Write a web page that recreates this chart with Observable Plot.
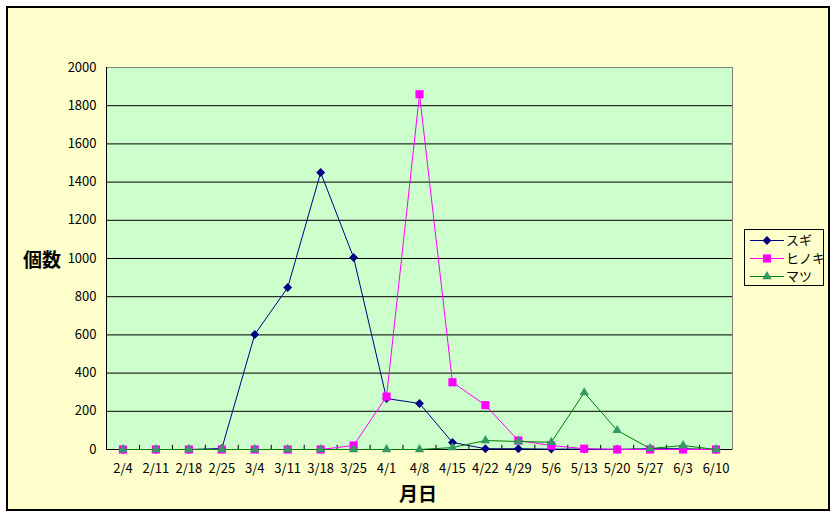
<!DOCTYPE html>
<html>
<head>
<meta charset="utf-8">
<script src="https://cdn.jsdelivr.net/npm/d3@7"></script>
<script src="https://cdn.jsdelivr.net/npm/@observablehq/plot@0.6"></script>
<style>
  html, body { margin: 0; padding: 0; background: #ffffff; }
  #wrap { position: relative; width: 837px; height: 518px; overflow: hidden; }
  #outer { position: absolute; left: 6px; top: 6px; width: 824px; height: 505px; box-sizing: border-box;
           background: #FFFFCC; border: 2px solid #000; }
  #chart { position: absolute; left: 0; top: 0; }
  #legend { position: absolute; left: 744px; top: 229px; width: 80px; height: 57px; box-sizing: border-box;
            border: 1px solid #000; background: #FFFFCC; font-family: "Noto Sans CJK JP", sans-serif; font-size: 13px; }
  .row { position: absolute; left: 0; height: 18px; display: flex; align-items: center; white-space: nowrap; }
  .row svg { display: block; flex: none; }
  .row span { line-height: 18px; white-space: nowrap; }
  .lab { position: absolute; font-family: "Noto Sans CJK JP", sans-serif; font-weight: bold; font-size: 19px; color: #000; }
</style>
</head>
<body>
<div id="wrap">
  <div id="outer"></div>
  <div id="chart"></div>
  <div id="legend"></div>
  <div class="lab" id="ylab" style="left:23px; top:245px;">個数</div>
  <div class="lab" id="xlab" style="left:399px; top:479px;">月日</div>
</div>
<script>
// ---- data ----
const dates = ["2/4","2/11","2/18","2/25","3/4","3/11","3/18","3/25","4/1","4/8","4/15","4/22","4/29","5/6","5/13","5/20","5/27","6/3","6/10"];
const sugi   = [0, 0, 0, 5, 602, 848, 1450, 1005, 267, 241, 37, 4, 4, 2, 2, 1, 4, 4, 0];
const hinoki = [0, 0, 0, 0, 0, 0, 0, 21, 277, 1860, 352, 232, 47, 21, 4, 0, 0, 0, 0];
const matsu  = [0, 0, 0, 0, 0, 0, 0, 0, 0, 0, 10, 47, 42, 38, 298, 100, 5, 21, 0];
const seriesNames = ["スギ", "ヒノキ", "マツ"];
const yTicks = [0, 200, 400, 600, 800, 1000, 1200, 1400, 1600, 1800, 2000];
const gridValues = [200, 400, 600, 800, 1000, 1200, 1400, 1600, 1800];

const colors = { "スギ": "#000080", "ヒノキ": "#FF00FF", "マツ": "#008000" };
const markFill = { "スギ": "#000080", "ヒノキ": "#FF00FF", "マツ": "#339966" };

const toRows = (name, vals) => vals.map((v, i) => ({ series: name, i, date: dates[i], value: v }));
const rowsSugi = toRows("スギ", sugi);
const rowsHinoki = toRows("ヒノキ", hinoki);
const rowsMatsu = toRows("マツ", matsu);
const idx = dates.map((d, i) => i);
const bounds = d3.range(dates.length - 1).map(i => i + 0.5);

const chart = Plot.plot({
  width: 837,
  height: 518,
  marginLeft: 106,
  marginRight: 105,
  marginTop: 67,
  marginBottom: 69,
  style: { background: "transparent", fontFamily: "'Noto Sans CJK JP', sans-serif", fontSize: "13px", color: "#000" },
  x: { type: "linear", domain: [-0.5, dates.length - 0.5] },
  y: { domain: [0, 2000] },
  marks: [
    Plot.frame({ fill: "#CCFFCC", stroke: "#808080" }),
    Plot.ruleY(gridValues, { stroke: "#000", strokeWidth: 1 }),
    Plot.ruleX([-0.5], { stroke: "#000" }),
    Plot.ruleY([0], { stroke: "#000" }),
    Plot.ruleX(bounds, { y1: 0, y2: 22, stroke: "#000" }),
    Plot.axisY({ ticks: yTicks, tickSize: 0, tickPadding: 10, label: null, tickFormat: d => String(d), fontSize: 13 }),
    Plot.axisX({ ticks: idx, tickSize: 0, tickPadding: 14, label: null, tickFormat: i => dates[i], fontSize: 13 }),
    // スギ
    Plot.line(rowsSugi, { x: "i", y: "value", stroke: colors["スギ"], strokeWidth: 1 }),
    Plot.dot(rowsSugi, { x: "i", y: "value", symbol: "diamond2", r: 4, fill: markFill["スギ"], stroke: "none" }),
    // ヒノキ
    Plot.line(rowsHinoki, { x: "i", y: "value", stroke: colors["ヒノキ"], strokeWidth: 1 }),
    Plot.dot(rowsHinoki, { x: "i", y: "value", symbol: "square", r: 4.6, fill: markFill["ヒノキ"], stroke: "none" }),
    // マツ
    Plot.line(rowsMatsu, { x: "i", y: "value", stroke: colors["マツ"], strokeWidth: 1 }),
    Plot.dot(rowsMatsu, { x: "i", y: "value", symbol: "triangle", r: 3.5, fill: markFill["マツ"], stroke: "none" })
  ]
});
document.getElementById("chart").appendChild(chart);

// ---- legend ----
const legend = document.getElementById("legend");
const symPaths = {
  "スギ": d3.symbol(d3.symbolDiamond2, 16 * Math.PI)(),
  "ヒノキ": d3.symbol(d3.symbolSquare, 4.6 * 4.6 * Math.PI)(),
  "マツ": d3.symbol(d3.symbolTriangle, 3.5 * 3.5 * Math.PI)()
};
seriesNames.forEach((name, k) => {
  const row = document.createElement("div");
  row.className = "row";
  row.style.top = (1 + k * 18) + "px";
  row.innerHTML = `<svg width="41" height="18"><line x1="5" x2="39" y1="9.5" y2="9.5" stroke="${colors[name]}" stroke-width="1"/>` +
    `<path d="${symPaths[name]}" transform="translate(22,9.5)" fill="${markFill[name]}"/></svg><span>${name}</span>`;
  legend.appendChild(row);
});
</script>
</body>
</html>
